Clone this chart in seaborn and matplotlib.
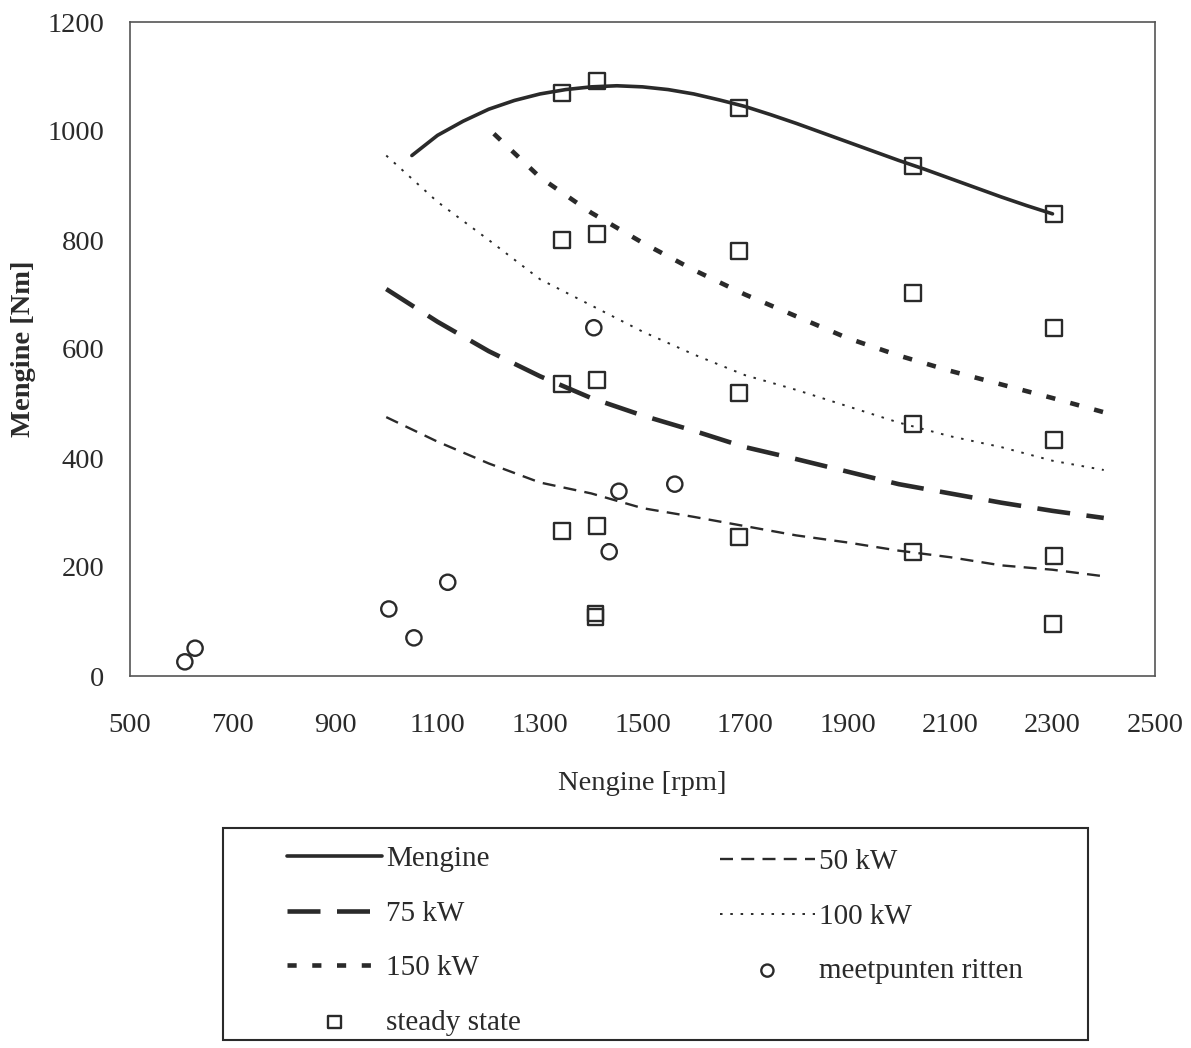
import matplotlib
matplotlib.use("Agg")
import matplotlib.pyplot as plt
from matplotlib.patches import Rectangle
import seaborn as sns

# Full-load torque curve
rpm_full = [1050, 1100, 1150, 1200, 1250, 1300, 1350, 1400, 1450, 1500, 1550, 1600, 1650,
            1700, 1750, 1800, 1850, 1900, 1950, 2000, 2050, 2100, 2150, 2200, 2250, 2300]
torque_full = [955, 992, 1018, 1040, 1056, 1068, 1076, 1081, 1083, 1081, 1076, 1068, 1057,
               1045, 1030, 1014, 997, 980, 963, 946, 930, 913, 896, 879, 863, 848]

# Constant-power lines
rpm_power = [1000, 1100, 1200, 1300, 1400, 1500, 1600, 1700, 1800, 1900, 2000, 2100, 2200, 2300, 2400]
torque_50kw = [475, 430, 390, 355, 335, 308, 292, 275, 258, 245, 230, 218, 203, 195, 183]
torque_75kw = [710, 650, 596, 550, 510, 478, 450, 420, 398, 375, 352, 335, 318, 303, 290]
torque_100kw = [955, 870, 800, 728, 680, 632, 590, 552, 525, 495, 465, 440, 420, 395, 378]
rpm_150 = [1210, 1300, 1400, 1500, 1600, 1700, 1800, 1900, 2000, 2100, 2200, 2300, 2400]
torque_150kw = [995, 915, 850, 795, 745, 700, 660, 620, 588, 560, 535, 510, 484]

# Measured points from drives
ritten_rpm = [607, 627, 1005, 1054, 1120, 1405, 1454, 1435, 1563]
ritten_torque = [26, 51, 123, 70, 172, 639, 339, 228, 352]

# Steady-state measurements
ss_rpm = [1343, 1411, 1688, 2028, 2303,
          1343, 1411, 1688, 2028, 2303,
          1343, 1411, 1688, 2028, 2303,
          1343, 1411, 1688, 2028, 2303,
          1408, 1408, 2301]
ss_torque = [1070, 1092, 1042, 936, 848,
             800, 811, 780, 703, 639,
             536, 543, 519, 462, 433,
             266, 275, 255, 228, 220,
             108, 115, 95]

ink = "#2a2a2a"
W, H = 1191, 1048

sns.set_style("white")
plt.rcParams["font.family"] = ["Liberation Serif", "DejaVu Serif"]
plt.rcParams["font.size"] = 20.5

fig = plt.figure(figsize=(W / 100, H / 100), dpi=100)
ax = fig.add_axes([130 / W, 1 - 676 / H, 1025 / W, 654 / H])

sns.lineplot(x=rpm_full, y=torque_full, ax=ax, color=ink, lw=2.6, sort=False,
             label="Mengine")
sns.lineplot(x=rpm_power, y=torque_75kw, ax=ax, color=ink, lw=3.3, sort=False,
             linestyle=(0, (7.2, 3.6)), label="75 kW")
sns.lineplot(x=rpm_150, y=torque_150kw, ax=ax, color=ink, lw=3.3, sort=False,
             linestyle=(0, (2.0, 3.4)), label="150 kW")
sns.lineplot(x=rpm_power, y=torque_50kw, ax=ax, color=ink, lw=1.7, sort=False,
             linestyle=(0, (5.5, 3.5)), label="50 kW")
sns.lineplot(x=rpm_power, y=torque_100kw, ax=ax, color=ink, lw=1.4, sort=False,
             linestyle=(0, (1.3, 4.0)), label="100 kW")

sns.scatterplot(x=ss_rpm, y=ss_torque, ax=ax, marker="s", s=125, color=ink,
                linewidth=1.7, label="steady state", zorder=5)
ax.collections[-1].set_facecolor("none")
ax.collections[-1].set_edgecolor(ink)
sns.scatterplot(x=ritten_rpm, y=ritten_torque, ax=ax, marker="o", s=120, color=ink,
                linewidth=1.7, label="meetpunten ritten", zorder=5)
ax.collections[-1].set_facecolor("none")
ax.collections[-1].set_edgecolor(ink)

ax.set_xlim(500, 2500)
ax.set_ylim(0, 1200)
ax.set_xticks(range(500, 2501, 200))
ax.set_yticks(range(0, 1201, 200))
ax.tick_params(direction="inout", length=13, width=1.1, color="#555555",
               labelsize=20.5, labelcolor=ink)
ax.tick_params(axis="x", pad=20)
ax.tick_params(axis="y", pad=12)
for sp in ax.spines.values():
    sp.set_visible(True)
    sp.set_color("#555555")
    sp.set_linewidth(1.2)

ax.set_xlabel("Nengine [rpm]", fontsize=20.5, color=ink, labelpad=24)
ax.set_ylabel("Mengine [Nm]", fontsize=20.5, color=ink, fontweight="bold", labelpad=8)

handles, labels = ax.get_legend_handles_labels()
ax.get_legend().remove()
hmap = dict(zip(labels, handles))

# Legend frame drawn as a figure-level box
fig.patches.append(Rectangle((223 / W, 1 - 1040 / H), (1088 - 223) / W, (1040 - 828) / H,
                             transform=fig.transFigure, fill=False, ec=ink, lw=1.5))

legend_kw = dict(loc="upper left", fontsize=21, handlelength=3.25, handletextpad=0.15,
                 labelspacing=0.96, borderpad=0, borderaxespad=0, frameon=False,
                 markerscale=0.8, labelcolor=ink)
col1 = ["Mengine", "75 kW", "150 kW", "steady state"]
col2 = ["50 kW", "100 kW", "meetpunten ritten"]
leg1 = fig.legend([hmap[k] for k in col1], col1, bbox_to_anchor=(287 / W, 1 - 846 / H),
                  **legend_kw)
leg2 = fig.legend([hmap[k] for k in col2], col2, bbox_to_anchor=(720 / W, 1 - 849 / H),
                  **legend_kw)

fig.savefig("out.png", dpi=100, facecolor="white")
